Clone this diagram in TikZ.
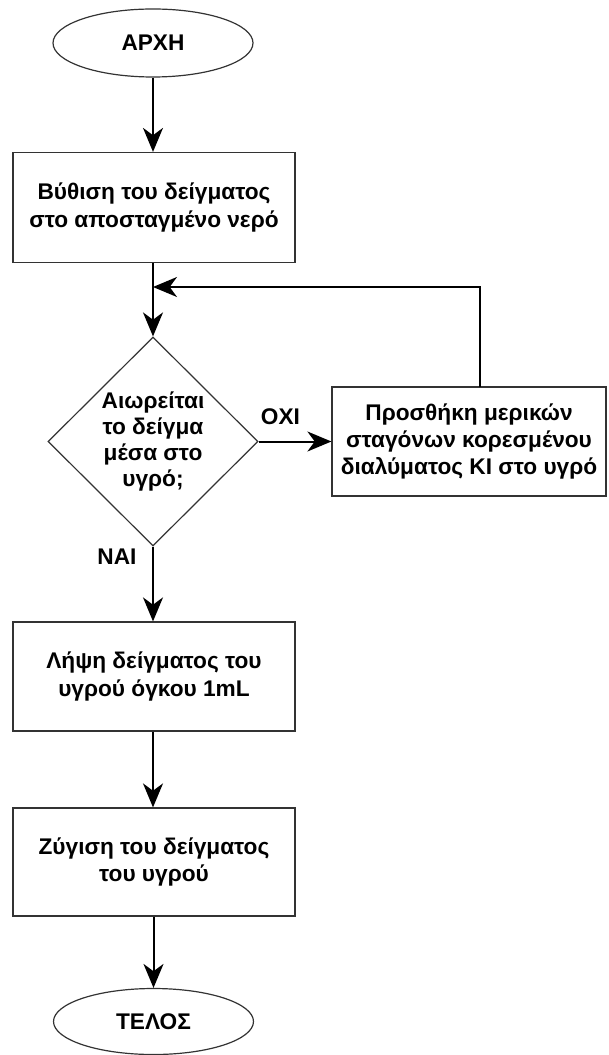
\documentclass[tikz,border=0pt]{standalone}
\usepackage{fontspec}
\setmainfont{Liberation Sans}
\usetikzlibrary{shapes.geometric,arrows.meta}
\begin{document}
\begin{tikzpicture}[x=0.75pt,y=-0.75pt,
  txt/.style={font=\fontsize{17pt}{20.5pt}\selectfont\bfseries, align=center, text=black},
  shapeline/.style={draw=black!80, line width=0.9pt, fill=white},
  procbox/.style={shapeline, rectangle, inner sep=0pt, txt},
  term/.style={shapeline, ellipse, inner sep=0pt, minimum width=150pt, txt},
  arr/.style={draw=black, line width=1.5pt, -{Stealth[length=18pt,width=15pt,inset=5.5pt]}},
  lbl/.style={font=\fontsize{17pt}{20.5pt}\selectfont\bfseries, text=black, inner sep=0pt}
]
\useasboundingbox (0,0) rectangle (608,1055);
\node[term, minimum height=51pt] (start) at (153,43) {ΑΡΧΗ};
\node[procbox, minimum width=211.5pt, minimum height=82.5pt] (b1) at (154,207.5) {Βύθιση του δείγματος\\στο αποσταγμένο νερό};
\node[shapeline, diamond, inner sep=0pt, minimum width=157.5pt, minimum height=156.75pt,
  label={[txt, font=\fontsize{17pt}{19.5pt}\selectfont\bfseries]center:Αιωρείται\\το δείγμα\\μέσα στο\\υγρό;}] (dec) at (153,441.5) {};
\node[procbox, minimum width=205.5pt, minimum height=81.75pt] (rb) at (469,441.5) {Προσθήκη μερικών\\σταγόνων κορεσμένου\\διαλύματος KI στο υγρό};
\node[procbox, minimum width=211.5pt, minimum height=81.75pt] (b3) at (154,676.5) {Λήψη δείγματος του\\υγρού όγκου 1mL};
\node[procbox, minimum width=211.5pt, minimum height=81pt] (b4) at (154,862) {Ζύγιση του δείγματος\\του υγρού};
\node[term, minimum height=49.5pt] (end) at (153.5,1021.5) {ΤΕΛΟΣ};

\coordinate (rtop) at (480,387);
\coordinate (ltop) at (480,287);
\coordinate (join) at (153,287);

\draw[arr] (start.south) -- (start.south |- b1.north);
\draw[arr] (b1.south -| dec.north) -- (dec.north);
\draw[arr] (dec.east) -- (rb.west |- dec.east) node[lbl, pos=0.3, above=12pt] (oxi) {ΟΧΙ};
\draw[arr] (rtop) -- (ltop) -- (join);
\draw[arr] (dec.south) -- (dec.south |- b3.north);
\node[lbl] (nai) at (117,557) {ΝΑΙ};
\draw[arr] (b3.south -| dec.south) -- (dec.south |- b4.north);
\draw[arr] (b4.south -| end.north) -- (end.north);
\end{tikzpicture}
\end{document}
